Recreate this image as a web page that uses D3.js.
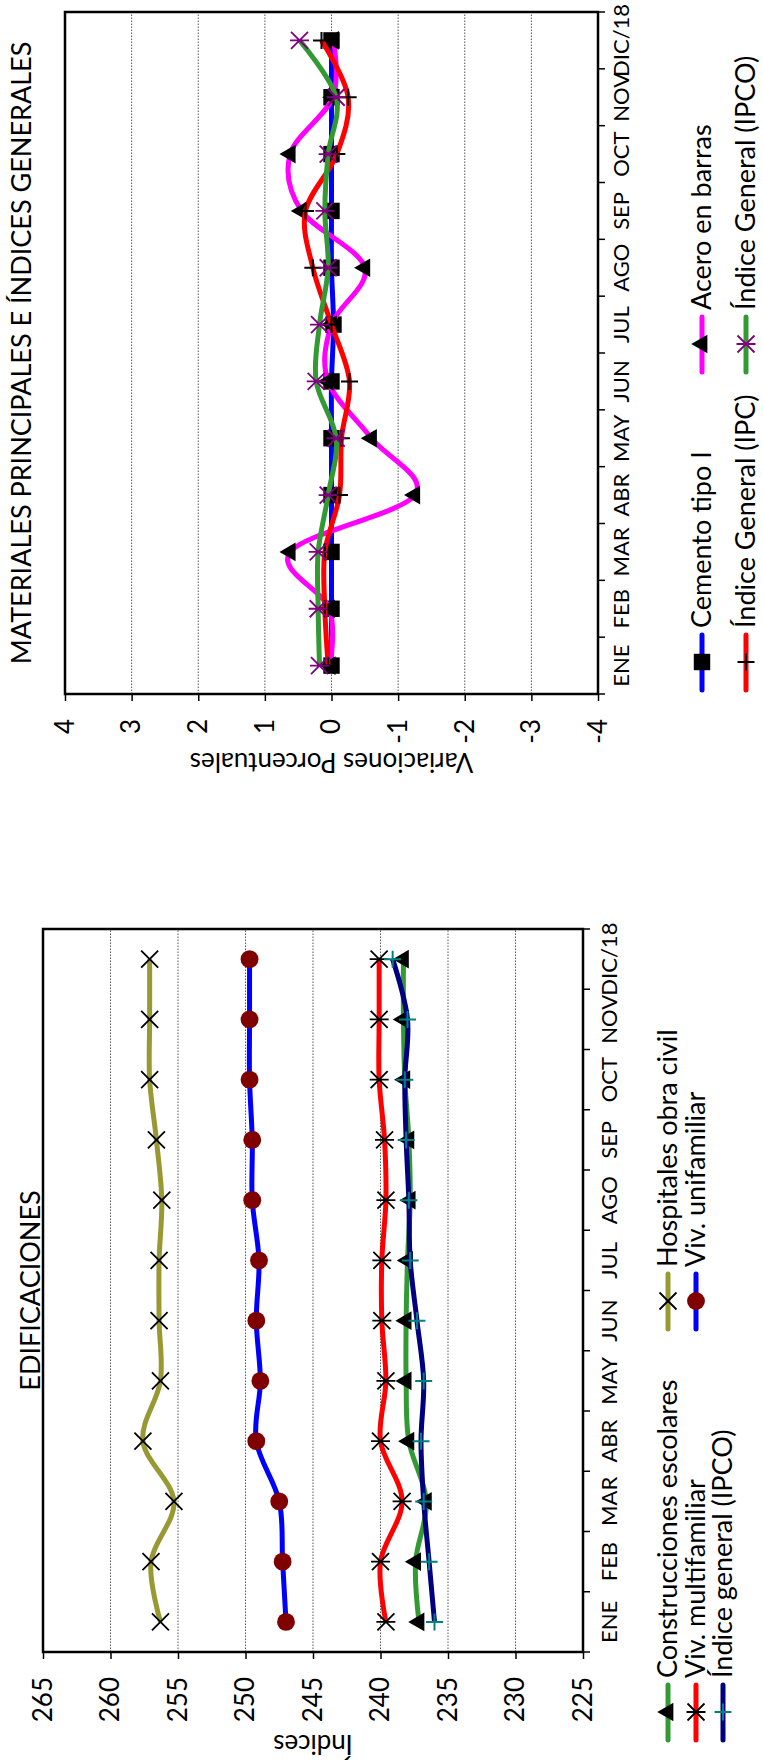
<!DOCTYPE html>
<html>
<head>
<meta charset="utf-8">
<script src="https://cdn.jsdelivr.net/npm/d3@7"></script>
<style>
  body { margin: 0; background: #fff; }
  svg { display: block; }
  text { font-family: Lato, "DejaVu Sans", sans-serif; fill: #000; }
</style>
</head>
<body>
<div id="chart"></div>
<script>
// months on the x axis
const months = ["ENE", "FEB", "MAR", "ABR", "MAY", "JUN", "JUL", "AGO", "SEP", "OCT", "NOV", "DIC/18"];

// EDIFICACIONES (index values)
const escolares = [237.15, 237.4, 236.6, 237.9, 238.1, 238.1, 238.0, 237.8, 237.9, 238.2, 238.3, 238.3];
const vivMultifamiliar = [239.6, 240.0, 238.4, 240.0, 239.6, 239.9, 239.9, 239.6, 239.7, 240.1, 240.1, 240.1];
const ipcoEdif = [236.0, 236.4, 236.8, 237.0, 236.8, 237.3, 237.8, 237.9, 238.1, 238.2, 238.0, 239.1];
const hospitales = [256.3, 257.0, 255.3, 257.6, 256.3, 256.4, 256.4, 256.2, 256.6, 257.1, 257.1, 257.1];
const vivUnifamiliar = [247.0, 247.25, 247.5, 249.2, 248.9, 249.2, 249.0, 249.5, 249.5, 249.7, 249.7, 249.7];
const edifTicks = [225, 230, 235, 240, 245, 250, 255, 260, 265];

// MATERIALES PRINCIPALES E INDICES GENERALES (percent changes)
const cemento = [0, 0, 0, 0, 0, 0, -0.03, 0, 0, 0, 0, 0];
const acero = [0.02, 0.03, 0.62, -1.25, -0.6, 0.05, 0, -0.5, 0.45, 0.62, -0.02, -0.03];
const ipc = [0.05, 0.1, 0.1, -0.12, -0.15, -0.27, 0, 0.28, 0.39, -0.08, -0.25, 0.15];
const ipcoMat = [0.18, 0.2, 0.2, 0.05, -0.07, 0.23, 0.18, 0.05, 0.1, 0.05, -0.07, 0.48];
const matTicks = [-4, -3, -2, -1, 0, 1, 2, 3, 4];

// page is drawn landscape, then turned a quarter to the left
const W = 1762;
const svg = d3.select("#chart").append("svg")
  .attr("width", 763)
  .attr("height", 1762);
const page = svg.append("g").attr("transform", `translate(0,${W}) rotate(-90)`);

// marker shapes
function markerPath(type) {
  const s = 8.5;
  if (type === "x") return `M${-s},${-s}L${s},${s}M${-s},${s}L${s},${-s}`;
  if (type === "plus") return `M${-s},0H${s}M0,${-s}V${s}`;
  if (type === "star") return `M${-s},${-s}L${s},${s}M${-s},${s}L${s},${-s}M0,${-s - 1}V${s + 1}`;
  if (type === "triangle") return d3.symbol(d3.symbolTriangle, 150)();
  if (type === "square") return d3.symbol(d3.symbolSquare, 270)();
  if (type === "circle") return d3.symbol(d3.symbolCircle, 250)();
}

function addMarker(g, type, color, x, y) {
  const filled = ["triangle", "square", "circle"].includes(type);
  g.append("path")
    .attr("d", markerPath(type))
    .attr("transform", `translate(${x},${y})`)
    .attr("fill", filled ? color : "none")
    .attr("stroke", filled ? "none" : color)
    .attr("stroke-width", type === "plus" ? 2 : 1.8);
}

function drawChart(cfg) {
  const g = page.append("g");
  const x = d3.scaleBand().domain(months).range([cfg.left, cfg.right]);
  const y = d3.scaleLinear().domain(cfg.domain).range([cfg.bottom, cfg.top]);

  // dotted grid
  g.append("g").selectAll("line")
    .data(cfg.ticks.slice(1, -1))
    .join("line")
    .attr("x1", cfg.left).attr("x2", cfg.right)
    .attr("y1", d => y(d)).attr("y2", d => y(d))
    .attr("stroke", "#555")
    .attr("stroke-width", 1)
    .attr("stroke-dasharray", "1.5,1.5");

  // value axis (plain hyphen for negatives)
  const ya = g.append("g")
    .attr("transform", `translate(${cfg.left},0)`)
    .call(d3.axisLeft(y).tickValues(cfg.ticks).tickFormat(d => String(d))
      .tickSize(7).tickPadding(18).tickSizeOuter(0));
  ya.select(".domain").remove();
  ya.selectAll("line").attr("stroke", "#000").attr("stroke-width", 1.5);
  ya.selectAll("text").style("font-size", "26px").style("font-family", "Lato");

  // month axis, labels in the bands, ticks on band edges
  const xa = g.append("g")
    .attr("transform", `translate(0,${cfg.bottom})`)
    .call(d3.axisBottom(x).tickSize(0).tickPadding(cfg.monthPad));
  xa.select(".domain").remove();
  xa.selectAll("text").style("font-size", "22px").style("font-family", "Lato");
  const edges = months.map(m => x(m)).concat([x(months[months.length - 1]) + x.bandwidth()]);
  g.append("g").selectAll("line")
    .data(edges)
    .join("line")
    .attr("x1", d => d).attr("x2", d => d)
    .attr("y1", cfg.bottom).attr("y2", cfg.bottom + 7)
    .attr("stroke", "#000").attr("stroke-width", 1.5);

  // frame
  g.append("rect")
    .attr("x", cfg.left).attr("y", cfg.top)
    .attr("width", cfg.right - cfg.left).attr("height", cfg.bottom - cfg.top)
    .attr("fill", "none").attr("stroke", "#000").attr("stroke-width", 2.5);

  // series
  const line = d3.line()
    .x((d, i) => x(months[i]) + x.bandwidth() / 2)
    .y(d => y(d))
    .curve(d3.curveCardinal);

  cfg.series.forEach(s => {
    g.append("path")
      .attr("d", line(s.values))
      .attr("fill", "none")
      .attr("stroke", s.color)
      .attr("stroke-width", 5)
      .attr("stroke-linejoin", "round");
    s.values.forEach((v, i) => {
      addMarker(g, s.marker, s.markerColor, x(months[i]) + x.bandwidth() / 2, y(v));
    });
  });

  // title
  g.append("text")
    .attr("x", (cfg.left + cfg.right) / 2)
    .attr("y", cfg.titleY)
    .attr("text-anchor", "middle")
    .style("font-size", "27px")
    .text(cfg.title);

  // axis title
  g.append("text")
    .attr("transform", `translate(${cfg.axisTitleX},${(cfg.top + cfg.bottom) / 2}) rotate(-90)`)
    .attr("text-anchor", "middle")
    .attr("dy", "0.35em")
    .style("font-size", "26px")
    .text(cfg.axisTitle);

  // legend
  cfg.legend.forEach(item => {
    const s = cfg.series.find(d => d.name === item.name);
    const lg = g.append("g").attr("transform", `translate(${item.x},${item.y})`);
    lg.append("line")
      .attr("x1", 0).attr("x2", 55)
      .attr("stroke", s.color).attr("stroke-width", 5).attr("stroke-linecap", "round");
    addMarker(lg, s.marker, s.markerColor, 28, 0);
    lg.append("text")
      .attr("x", 62)
      .attr("dy", "0.35em")
      .style("font-size", "27px")
      .text(s.name);
  });
}

drawChart({
  left: 110, right: 833, top: 43, bottom: 583,
  domain: [225, 265], ticks: edifTicks, monthPad: 18,
  title: "EDIFICACIONES", titleY: 40,
  axisTitle: "Índices", axisTitleX: 18,
  series: [
    { name: "Construcciones escolares", values: escolares, color: "#339933", marker: "triangle", markerColor: "#000" },
    { name: "Viv. multifamiliar", values: vivMultifamiliar, color: "#ff0000", marker: "star", markerColor: "#000" },
    { name: "Índice general (IPCO)", values: ipcoEdif, color: "#000080", marker: "plus", markerColor: "#008080" },
    { name: "Hospitales obra civil", values: hospitales, color: "#999933", marker: "x", markerColor: "#000" },
    { name: "Viv. unifamiliar", values: vivUnifamiliar, color: "#0000ff", marker: "circle", markerColor: "#800000" }
  ],
  legend: [
    { name: "Construcciones escolares", x: 22, y: 668 },
    { name: "Viv. multifamiliar", x: 22, y: 696 },
    { name: "Índice general (IPCO)", x: 22, y: 723 },
    { name: "Hospitales obra civil", x: 433, y: 668 },
    { name: "Viv. unifamiliar", x: 433, y: 696 }
  ]
});

drawChart({
  left: 1068, right: 1750, top: 65, bottom: 598,
  domain: [-4, 4], ticks: matTicks, monthPad: 15,
  title: "MATERIALES PRINCIPALES E ÍNDICES GENERALES", titleY: 31,
  axisTitle: "Variaciones Porcentuales", axisTitleX: 1000,
  series: [
    { name: "Cemento tipo I", values: cemento, color: "#0000ff", marker: "square", markerColor: "#000" },
    { name: "Acero en barras", values: acero, color: "#ff00ff", marker: "triangle", markerColor: "#000" },
    { name: "Índice General (IPC)", values: ipc, color: "#ff0000", marker: "plus", markerColor: "#000" },
    { name: "Índice General (IPCO)", values: ipcoMat, color: "#339933", marker: "star", markerColor: "#800080" }
  ],
  legend: [
    { name: "Cemento tipo I", x: 1072, y: 702 },
    { name: "Índice General (IPC)", x: 1072, y: 746 },
    { name: "Acero en barras", x: 1390, y: 702 },
    { name: "Índice General (IPCO)", x: 1390, y: 746 }
  ]
});
</script>
</body>
</html>
